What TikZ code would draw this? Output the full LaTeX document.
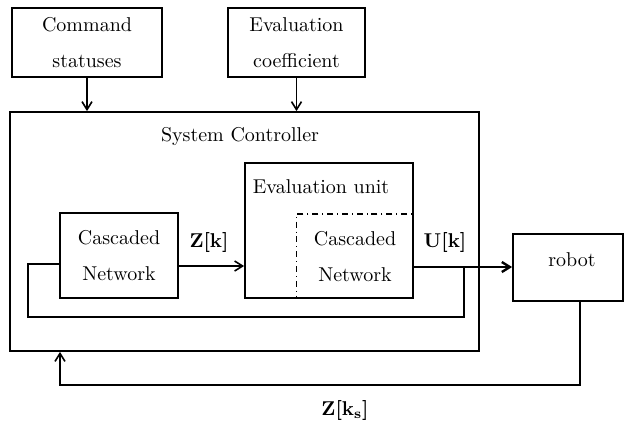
\documentclass[tikz,border=0pt]{standalone}
\usetikzlibrary{arrows.meta}
\begin{document}
\begin{tikzpicture}[x=0.5pt,y=-0.5pt,
  blk/.style={draw,line width=0.9pt,inner sep=0pt,align=center},
  lbl/.style={inner sep=0pt,font=\bfseries},
  ln/.style={line width=0.8pt},
  arr/.style={line width=0.8pt,-{Straight Barb[length=4pt,width=5pt]}},
  txt/.style={inner sep=0pt,align=center}]
\useasboundingbox (0,0) rectangle (625,425);
% boxes
\node[blk,minimum width=75pt,minimum height=34.5pt] (cmd) at (87,42.5) {Command\\[6pt]statuses};
\node[blk,minimum width=68.5pt,minimum height=34.5pt] (evc) at (296.5,42.5) {Evaluation\\[6pt]coefficient};
\node[blk,minimum width=234.5pt,minimum height=119.5pt] (sys) at (244.5,231.5) {};
\node[txt] (systxt) at (240,136) {System Controller};
\node[blk,minimum width=59pt,minimum height=42.5pt] (cn1) at (119,255.5) {Cascaded\\[6pt]Network};
\node[blk,minimum width=84pt,minimum height=67.5pt] (eu) at (329,230.5) {};
\node[txt] (eutxt) at (321,187) {Evaluation unit};
\node[draw,dash dot,line width=0.6pt,inner sep=0pt,minimum width=58.5pt,minimum height=42pt] (cn2) at (354.75,256) {};
\node[txt] (cn2txt) at (355,257) {Cascaded\\[6pt]Network};
\node[blk,minimum width=55pt,minimum height=33.5pt] (rob) at (568,267.5) {};
\node[txt] (robtxt) at (572,260) {robot};
% labels
\node[lbl] (zk) at (209,242) {Z[k]};
\node[lbl] (uk) at (445,242) {U[k]};
\node[lbl] (zks) at (345,410) {Z[k$_{\mathbf{s}}$]};
% connectors
\draw[arr] (cmd.south) -- (cmd.south |- sys.north);
\draw[arr] (evc.south) -- (evc.south |- sys.north);
\draw[arr] (cn1.east |- 0,266) -- (eu.west |- 0,266);
\draw[arr,line width=1.2pt] (eu.east |- 0,267) -- (rob.west |- 0,267);
\coordinate (fb1) at (464,267);
\coordinate (fb2) at (464,317);
\coordinate (fb3) at (28,317);
\coordinate (fb4) at (28,264);
\draw[ln] (fb1) -- (fb2) -- (fb3) -- (fb4) -- (cn1.west |- fb4);
\coordinate (ob1) at (580,385);
\coordinate (ob2) at (60,385);
\draw[arr] (rob.south -| ob1) -- (ob1) -- (ob2) -- (ob2 |- sys.south);
\end{tikzpicture}
\end{document}
